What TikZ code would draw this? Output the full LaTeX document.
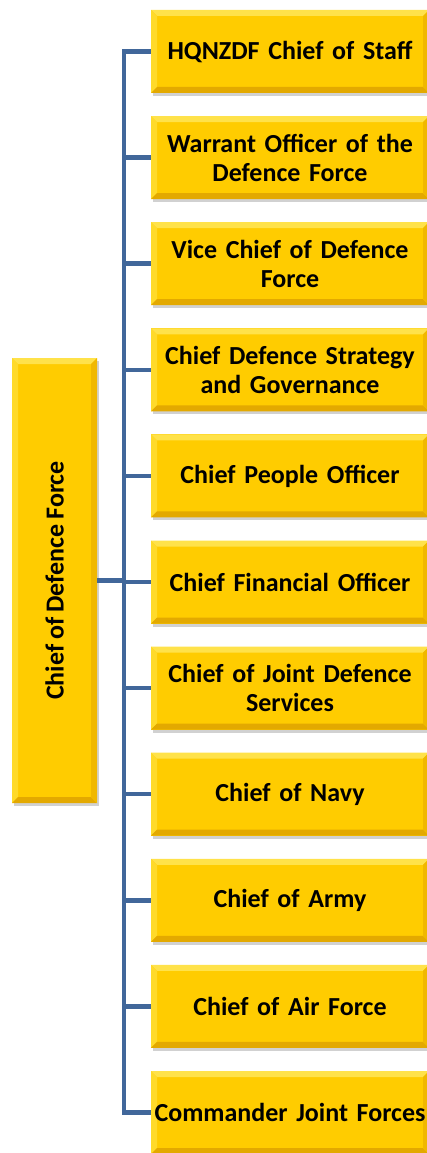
\documentclass[tikz,border=0pt]{standalone}
\usepackage{fontspec}
\setmainfont{Carlito}[WordSpace=0.85]
\usetikzlibrary{shadows}
\definecolor{gold}{HTML}{FFCC00}
\definecolor{bevtop}{HTML}{FFE24A}
\definecolor{bevleft}{HTML}{FFDA2A}
\definecolor{bevbot}{HTML}{E3A900}
\definecolor{bevright}{HTML}{F0B800}
\definecolor{linkblue}{HTML}{41679A}
\tikzset{
  bevel/.style={
    path picture={
      \fill[bevtop] (path picture bounding box.north west) -- (path picture bounding box.north east)
        -- ([xshift=-6pt,yshift=-6pt]path picture bounding box.north east) -- ([xshift=6pt,yshift=-6pt]path picture bounding box.north west) -- cycle;
      \fill[bevleft] (path picture bounding box.north west) -- (path picture bounding box.south west)
        -- ([xshift=6pt,yshift=6pt]path picture bounding box.south west) -- ([xshift=6pt,yshift=-6pt]path picture bounding box.north west) -- cycle;
      \fill[bevbot] (path picture bounding box.south west) -- (path picture bounding box.south east)
        -- ([xshift=-6pt,yshift=6pt]path picture bounding box.south east) -- ([xshift=6pt,yshift=6pt]path picture bounding box.south west) -- cycle;
      \fill[bevright] (path picture bounding box.north east) -- (path picture bounding box.south east)
        -- ([xshift=-6pt,yshift=6pt]path picture bounding box.south east) -- ([xshift=-6pt,yshift=-6pt]path picture bounding box.north east) -- cycle;
    }},
  boxfont/.style={font=\fontsize{26}{29}\selectfont\bfseries},
  posbox/.style={bevel, fill=gold, inner sep=0pt, minimum width=278pt, minimum height=83pt,
    text width=276pt, align=center, boxfont,
    drop shadow={shadow xshift=2pt, shadow yshift=-3pt, opacity=0.3, fill=black!60}},
  chiefbox/.style={bevel, fill=gold, inner sep=0pt, minimum width=85pt, minimum height=445pt,
    drop shadow={shadow xshift=2pt, shadow yshift=-3pt, opacity=0.3, fill=black!60}},
  conn/.style={draw=linkblue, line width=4.5pt}
}
\begin{document}
\begin{tikzpicture}[x=1pt,y=-1pt]
\useasboundingbox (0,0) rectangle (427,1153);
\coordinate (trunk) at (124,0);
\node[chiefbox] (cdf) at (54.5,580.5) {};
\node[rotate=90, boxfont] (cdflabel) at (cdf.center) {Chief of Defence Force};
\foreach \i/\t in {
  1/{HQNZDF Chief of Staff},
  2/{Warrant Officer of the\\Defence Force},
  3/{Vice Chief of Defence\\Force},
  4/{Chief Defence Strategy\\and Governance},
  5/{Chief People Officer},
  6/{Chief Financial Officer},
  7/{Chief of Joint Defence\\Services},
  8/{Chief of Navy},
  9/{Chief of Army},
  10/{Chief of Air Force},
  11/{Commander Joint Forces}} {
  \node[posbox] (b\i) at (290,{51.5+106.1*(\i-1)}) {\t};
}
\draw[conn] (b1.west) -- (b1.west -| trunk) -- (b11.west -| trunk) -- (b11.west);
\foreach \i in {2,...,10} {
  \draw[conn] (b\i.west) -- (b\i.west -| trunk);
}
\draw[conn] (cdf.east) -- (cdf.east -| trunk);
\end{tikzpicture}
\end{document}
